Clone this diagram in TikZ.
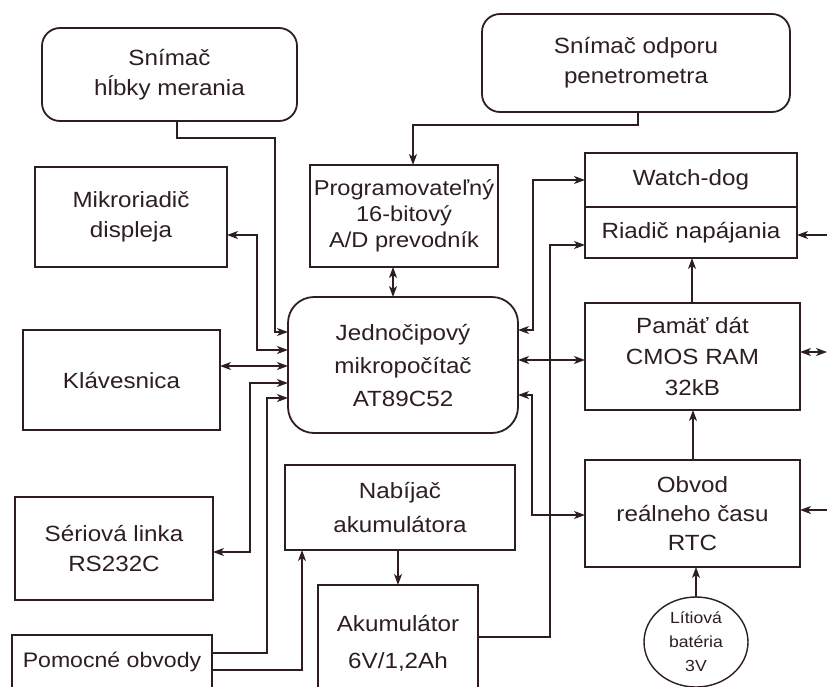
\documentclass[tikz,border=0pt]{standalone}
\usepackage{fontspec}
\setmainfont{Liberation Sans}[FakeStretch=1.1]
\usetikzlibrary{arrows.meta,shapes.geometric}
\definecolor{ink}{RGB}{45,30,32}

\begin{document}
\begin{tikzpicture}[x=1pt,y=-1pt,outer sep=0pt,inner sep=1pt]
\tikzstyle{box}=[draw=ink, line width=1.8pt, text=ink, align=center,
    font=\fontsize{22}{30}\selectfont]
\tikzstyle{rbox}=[box, rounded corners=18pt]
\tikzstyle{arr}=[draw=ink, line width=1.2pt, -{Stealth[length=11pt,width=8pt,inset=3pt]}]
\tikzstyle{arr2}=[draw=ink, line width=1.2pt,
    {Stealth[length=11pt,width=8pt,inset=3pt]}-{Stealth[length=11pt,width=8pt,inset=3pt]}]

\useasboundingbox[fill=white] (0,0) rectangle (827,686);
\clip (0,0) rectangle (827,686);

% snimace
\node (snimH) [rbox, minimum width=255pt, minimum height=93pt] at (169.5,74.5) {Snímač\\hĺbky merania};
\node (snimP) [rbox, minimum width=308pt, minimum height=98pt] at (636,63) {Snímač odporu\\penetrometra};

% lava strana
\node (displej) [box, minimum width=192pt, minimum height=100pt] at (131,217) {Mikroriadič\\displeja};
\node (klav) [box, minimum width=197pt, minimum height=100pt] at (121.5,380) {Klávesnica};
\node (seriova) [box, minimum width=198pt, minimum height=103pt] at (114,548.5) {Sériová linka\\RS232C};
\node (pomocne) [box, line width=1.4pt, minimum width=200pt, minimum height=54pt,
    font=\fontsize{21}{28}\selectfont] at (112,662) {Pomocné obvody};

% stred
\node (adc) [box, minimum width=188pt, minimum height=102pt, font=\fontsize{21.5}{26}\selectfont]
    at (404,216) {Programovateľný\\16-bitový\\A/D prevodník};
\node (cpu) [box, rounded corners=26pt, minimum width=230pt, minimum height=136pt,
    font=\fontsize{22}{33}\selectfont] at (403,365) {Jednočipový\\mikropočítač\\AT89C52};
\node (nabijac) [box, minimum width=230pt, minimum height=85pt, font=\fontsize{22}{34}\selectfont]
    at (400,507.5) {Nabíjač\\akumulátora};
\node (akum) [box, minimum width=160pt, minimum height=116pt, font=\fontsize{22}{37}\selectfont]
    at (398,643) {Akumulátor\\6V/1,2Ah};

% prava strana
\node (wdog) [box, minimum width=212pt, minimum height=54pt] at (691,180) {Watch-dog};
\node (napaj) [box, minimum width=212pt, minimum height=51pt] at (691,232.5) {Riadič napájania};
\node (pamat) [box, minimum width=215pt, minimum height=107pt, font=\fontsize{22}{31}\selectfont]
    at (692.5,356.5) {Pamäť dát\\CMOS RAM\\32kB};
\node (rtc) [box, minimum width=215pt, minimum height=107pt, font=\fontsize{22}{29}\selectfont]
    at (692.5,513.5) {Obvod\\reálneho času\\RTC};
\node (bateria) [box, ellipse, line width=1.4pt, minimum width=104pt, minimum height=90pt,
    font=\fontsize{16}{24}\selectfont] at (696,642) {Lítiová\\batéria\\3V};

\coordinate (ext1) at (827,235);
\coordinate (ext2) at (827,352);
\coordinate (ext3) at (827,510);

% spoje do mikropocitaca zlava
\draw[arr] (snimH.south -| 177,0) |- (275,138) |- (cpu.west |- 0,332);
\draw[arr2] (displej.east |- 0,235) -| (257,350) -- (cpu.west |- 0,350);
\draw[arr2] (klav.east |- 0,366) -- (cpu.west |- 0,366);
\draw[arr2] (seriova.east |- 0,552) -| (250,383) -- (cpu.west |- 0,383);
\draw[arr] (pomocne.east |- 0,653) -| (267,398) -- (cpu.west |- 0,398);
\draw[arr] (pomocne.east |- 0,670) -| (nabijac.south -| 302,0);

% stred
\draw[arr] (snimP.south -| 638,0) |- (413,125) -- (adc.north -| 413,0);
\draw[arr2] (adc.south -| 393,0) -- (cpu.north -| 393,0);
\draw[arr] (nabijac.south -| 398,0) -- (akum.north -| 398,0);

% spoje vpravo
\draw[arr2] (cpu.east |- 0,330) -| (533,180) -- (wdog.west |- 0,180);
\draw[arr2] (cpu.east |- 0,360) -- (pamat.west |- 0,360);
\draw[arr2] (cpu.east |- 0,395) -| (532,515) -- (rtc.west |- 0,515);
\draw[arr] (akum.east |- 0,637) -| (550,245) -- (napaj.west |- 0,245);
\draw[arr] (pamat.north -| 692,0) -- (napaj.south -| 692,0);
\draw[arr] (rtc.north -| 693,0) -- (pamat.south -| 693,0);
\draw[arr] (bateria.north) -- (rtc.south -| bateria.north);

% vonkajsie vstupy
\draw[arr] (ext1) -- (napaj.east |- ext1);
\draw[arr2] (ext2) -- (pamat.east |- ext2);
\draw[arr] (ext3) -- (rtc.east |- ext3);
\end{tikzpicture}
\end{document}
